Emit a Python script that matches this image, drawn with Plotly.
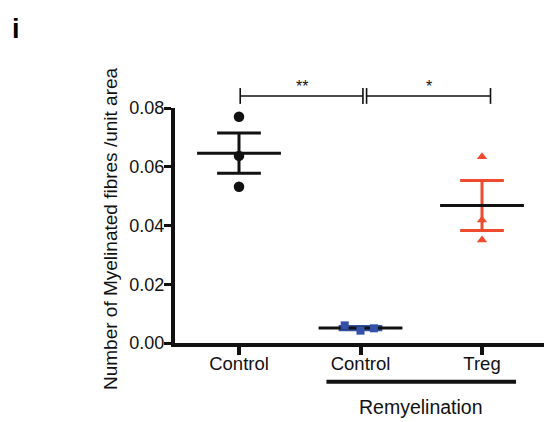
import numpy as np
import plotly.graph_objects as go

# ---------------- data ----------------
group_labels = ["Control", "Control", "Treg"]
group_pos = [1, 2, 3]
ctrl_vals = [0.0770, 0.0637, 0.0532]
remy_ctrl_vals = [0.0060, 0.0042, 0.0050]
treg_vals = [0.0634, 0.0419, 0.0351]
ytick_vals = [0.00, 0.02, 0.04, 0.06, 0.08]
ytick_text = ["0.00", "0.02", "0.04", "0.06", "0.08"]
sig_labels = ["**", "*"]
bracket_label = "Remyelination"
y_title = "Number of Myelinated fibres /unit area"
panel_label = "i"

# ---------------- style / layout constants ----------------
FONT = "Liberation Sans, Arial, sans-serif"
BLACK = "#111111"
BLUE = "#3450A8"
RED = "#EE4A2E"
W, H = 544, 422
ML, MR, MT, MB = 175, 0, 70, 79
PX_PER_UNIT = 121.5
X_RANGE = [1 - 64 / PX_PER_UNIT, 3 + 62 / PX_PER_UNIT]
Y_AXIS_MAX = 0.08
plot_h = H - MT - MB
y_px_per_val = 235 / Y_AXIS_MAX
Y2_MAX = plot_h / y_px_per_val
MEAN_HALF = 0.345
CAP_HALF = 0.18
SIG_Y = 0.0841
SIG_TICK = 0.0027
remy_jitter = [-0.13, 0.0, 0.11]

groups = [
    dict(vals=ctrl_vals, color=BLACK, mean_color=BLACK, symbol="circle", size=10.5, jitter=[0, 0, 0]),
    dict(vals=remy_ctrl_vals, color=BLUE, mean_color=BLACK, symbol="square", size=8, jitter=remy_jitter),
    dict(vals=treg_vals, color=RED, mean_color=BLACK, symbol="triangle-up", size=9, jitter=[0, 0, 0]),
]

fig = go.Figure()

for p, g in zip(group_pos, groups):
    v = np.array(g["vals"])
    m = float(v.mean())
    s = float(v.std(ddof=1) / np.sqrt(len(v)))
    # SEM whiskers
    fig.add_trace(go.Scatter(
        x=[p - CAP_HALF, p + CAP_HALF, None, p, p, None, p - CAP_HALF, p + CAP_HALF],
        y=[m + s, m + s, None, m - s, m + s, None, m - s, m - s],
        mode="lines", line=dict(color=g["color"], width=3),
        xaxis="x", yaxis="y", hoverinfo="skip", showlegend=False))
    # mean line
    fig.add_trace(go.Scatter(
        x=[p - MEAN_HALF, p + MEAN_HALF], y=[m, m],
        mode="lines", line=dict(color=g["mean_color"], width=3),
        xaxis="x", yaxis="y", hoverinfo="skip", showlegend=False))
    # points
    fig.add_trace(go.Scatter(
        x=[p + j for j in g["jitter"]], y=list(v),
        mode="markers",
        marker=dict(symbol=g["symbol"], size=g["size"], color=g["color"], line=dict(width=0)),
        xaxis="x", yaxis="y", showlegend=False, cliponaxis=False))

# significance brackets (on overlay y2 that extends above the axis)
brackets = [(group_pos[0] + 0.01, group_pos[1] + 0.02), (group_pos[1] + 0.05, group_pos[2] + 0.07)]
for (a, b), lab in zip(brackets, sig_labels):
    fig.add_trace(go.Scatter(
        x=[a, a, None, a, b, None, b, b],
        y=[SIG_Y - SIG_TICK, SIG_Y + SIG_TICK, None, SIG_Y, SIG_Y, None, SIG_Y - SIG_TICK, SIG_Y + SIG_TICK],
        mode="lines", line=dict(color=BLACK, width=1.6),
        xaxis="x", yaxis="y2", hoverinfo="skip", showlegend=False))
    fig.add_annotation(x=(a + b) / 2, y=SIG_Y + 0.0032, xref="x", yref="y2",
                       text=lab, showarrow=False, font=dict(family=FONT, size=16, color=BLACK),
                       xanchor="center", yanchor="middle")

# Remyelination bracket below x axis
fig.add_shape(type="line", xref="x", yref="paper",
              x0=group_pos[1] - 0.28, x1=group_pos[2] + 0.28,
              y0=-38.7 / plot_h, y1=-38.7 / plot_h,
              line=dict(color=BLACK, width=4))
fig.add_annotation(x=(group_pos[1] + group_pos[2]) / 2, y=-63.7 / plot_h, xref="x", yref="paper",
                   text=bracket_label, showarrow=False,
                   font=dict(family=FONT, size=19.5, color=BLACK), xanchor="center", yanchor="middle")

# y title
fig.add_annotation(x=(110.5 - ML) / (W - ML - MR), y=(343 - 228.5) / plot_h, xref="paper", yref="paper",
                   text=y_title, textangle=-90, showarrow=False,
                   font=dict(family=FONT, size=19, color=BLACK), xanchor="center", yanchor="middle")

# panel label
fig.add_annotation(x=(15.7 - ML) / (W - ML - MR), y=(343 - 29) / plot_h, xref="paper", yref="paper",
                   text="<b>" + panel_label + "</b>", showarrow=False,
                   font=dict(family=FONT, size=27, color="#000000"), xanchor="center", yanchor="middle")

fig.update_layout(
    width=W, height=H,
    margin=dict(l=ML, r=MR, t=MT, b=MB),
    plot_bgcolor="rgba(0,0,0,0)", paper_bgcolor="white",
    showlegend=False,
    xaxis=dict(range=X_RANGE, tickvals=group_pos, ticktext=group_labels,
               showline=True, linewidth=4, linecolor=BLACK, mirror=False,
               ticks="outside", ticklen=8, tickwidth=4, tickcolor=BLACK,
               showgrid=False, zeroline=False, anchor="y",
               ticklabelstandoff=-7,
               tickfont=dict(family=FONT, size=18.5, color=BLACK)),
    yaxis=dict(range=[0, Y_AXIS_MAX], domain=[0, Y_AXIS_MAX / Y2_MAX],
               tickvals=ytick_vals, ticktext=ytick_text,
               showline=True, linewidth=4, linecolor=BLACK,
               ticks="outside", ticklen=7, tickwidth=3, tickcolor=BLACK,
               showgrid=False, zeroline=False, anchor="x",
               ticklabelstandoff=-4,
               tickfont=dict(family=FONT, size=18, color=BLACK)),
    yaxis2=dict(range=[0, Y2_MAX], domain=[0, 1], anchor="x", visible=False,
                showgrid=False, zeroline=False),
)

fig.write_html("out.html")
